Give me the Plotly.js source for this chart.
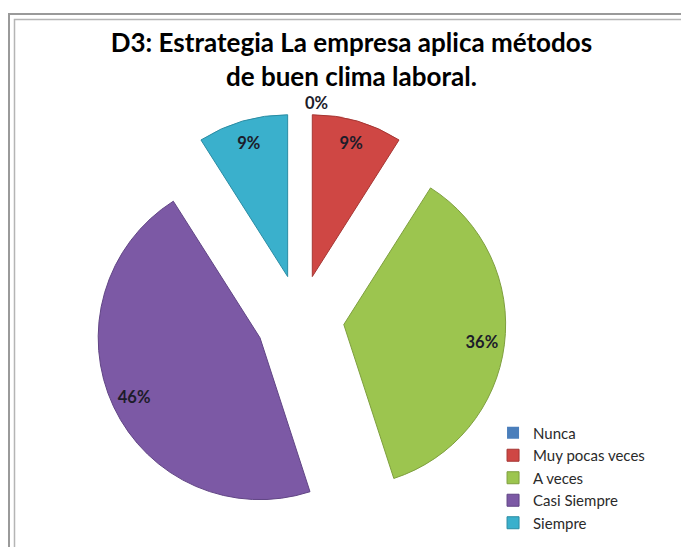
<!DOCTYPE html>
<html>
<head>
<meta charset="utf-8">
<script src="https://cdn.plot.ly/plotly-3.0.1.min.js"></script>
<style>html,body{margin:0;padding:0;background:#fff;}#chart{width:681px;height:547px;}</style>
</head>
<body>
<div id="chart"></div>
<script>
const categories = ['Nunca', 'Muy pocas veces', 'A veces', 'Casi Siempre', 'Siempre'];
const values = [0, 9, 36, 46, 9];
const colors = ['#4A7EBB', '#CF4744', '#9CC54F', '#7C59A5', '#3AB0CC'];
const edgeColors = ['#3A6698', '#A53633', '#7E9F3E', '#614585', '#2B8CA3'];
const chartTitle = 'D3: Estrategia La empresa aplica métodos<br>de buen clima laboral.';

const pullAmt = categories.map(() => 0.273);
const edgeWidths = values.map(v => v > 0 ? 1 : 0);
const dom = {x: [0.138, 0.743], y: [0.0402, 0.7934]};
const labelFont = {family: 'Lato, sans-serif', size: 16.5, color: '#1c1c2a', weight: 'bold'};

const mainPie = {
  type: 'pie',
  labels: categories,
  values: values,
  sort: false,
  direction: 'clockwise',
  rotation: 0,
  pull: pullAmt,
  domain: dom,
  marker: {colors: colors, line: {color: edgeColors, width: edgeWidths}},
  texttemplate: '%{percent:.0%}',
  textposition: ['outside', 'none', 'none', 'none', 'none'],
  outsidetextfont: labelFont,
  showlegend: true,
  hoverinfo: 'label+percent'
};

const labelRing = {
  type: 'pie',
  labels: categories,
  values: values,
  sort: false,
  direction: 'clockwise',
  rotation: 0,
  pull: pullAmt,
  domain: dom,
  hole: 0.72,
  marker: {colors: categories.map(() => 'rgba(0,0,0,0)'), line: {width: 0}},
  texttemplate: '%{percent:.0%}',
  textposition: ['none', 'inside', 'inside', 'inside', 'inside'],
  insidetextorientation: 'horizontal',
  insidetextfont: labelFont,
  showlegend: false,
  hoverinfo: 'skip'
};

const layout = {
  width: 681,
  height: 547,
  margin: {l: 0, r: 0, t: 0, b: 0},
  paper_bgcolor: '#ffffff',
  title: {
    text: chartTitle,
    x: 0.516, xanchor: 'center',
    y: 0.905, yanchor: 'top', yref: 'container',
    font: {family: 'Lato, sans-serif', size: 26, color: '#000000', weight: 'bold'}
  },
  legend: {
    x: 0.724, xanchor: 'left',
    y: 0.2386, yanchor: 'top',
    font: {family: 'Lato, sans-serif', size: 15, color: '#2a2a2a'},
    bgcolor: 'rgba(0,0,0,0)'
  },
  shapes: [
    {type: 'rect', xref: 'paper', yref: 'paper', x0: 9/681, x1: 1.05, y0: -0.05, y1: 1 - 14/547,
     line: {color: '#9a9a9a', width: 2}, fillcolor: 'rgba(0,0,0,0)'},
    {type: 'rect', xref: 'paper', yref: 'paper', x0: 14.5/681, x1: 1.05, y0: -0.05, y1: 1 - 19.5/547,
     line: {color: '#b5b5b5', width: 1.5}, fillcolor: 'rgba(0,0,0,0)'}
  ]
};

Plotly.newPlot('chart', [mainPie, labelRing], layout, {displayModeBar: false, staticPlot: true});
</script>
</body>
</html>
